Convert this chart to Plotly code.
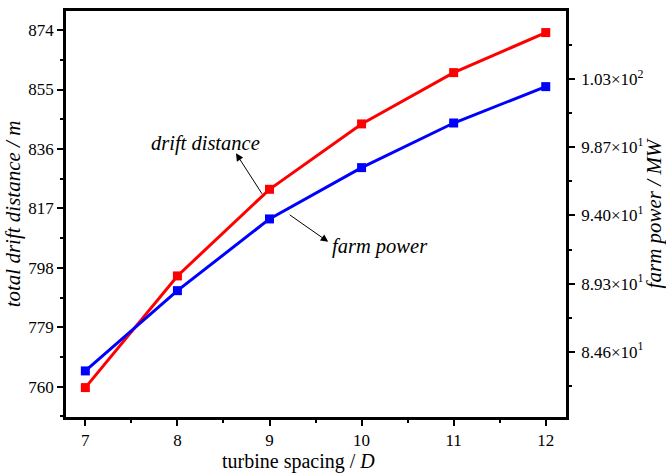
import plotly.graph_objects as go

spacing = [7, 8, 9, 10, 11, 12]
drift_distance = [759.7, 795.4, 823.1, 844.0, 860.4, 873.2]
farm_power = [83.27, 88.81, 93.76, 97.30, 100.38, 102.89]

left_ticks = [760, 779, 798, 817, 836, 855, 874]
right_tickvals = [84.6, 89.3, 94.0, 98.7, 103.4]
right_ticktext = ["8.46×10<sup>1</sup>", "8.93×10<sup>1</sup>", "9.40×10<sup>1</sup>",
                  "9.87×10<sup>1</sup>", "1.03×10<sup>2</sup>"]

FONT = "Times New Roman, Liberation Serif, serif"
RED = "#ff0000"
BLUE = "#0000ff"

fig = go.Figure()
fig.add_trace(go.Scatter(x=spacing, y=drift_distance, mode="lines+markers",
                         line=dict(color=RED, width=3),
                         marker=dict(symbol="square", size=9, color=RED),
                         showlegend=False))
fig.add_trace(go.Scatter(x=spacing, y=farm_power, mode="lines+markers",
                         line=dict(color=BLUE, width=3),
                         marker=dict(symbol="square", size=9, color=BLUE),
                         yaxis="y2", showlegend=False))

axis_common = dict(showline=True, linecolor="black", linewidth=2.5,
                   ticks="outside", ticklen=6, tickwidth=2, tickcolor="black",
                   showgrid=False, zeroline=False, automargin=False,
                   tickfont=dict(family=FONT, size=17, color="black"))

fig.update_layout(
    width=666, height=473,
    margin=dict(l=66, r=100, t=11, b=56),
    paper_bgcolor="white", plot_bgcolor="white",
    font=dict(family=FONT, color="black"),
    xaxis=dict(**axis_common, range=[6.79, 12.22], tickmode="linear", tick0=7, dtick=1,
               mirror=True,
               minor=dict(ticks="outside", ticklen=3, tickwidth=2, tickcolor="black",
                          tick0=7.5, dtick=1, showgrid=False)),
    yaxis=dict(**axis_common, range=[750.3, 880.1], tickmode="array", tickvals=left_ticks,
               mirror=True,
               minor=dict(ticks="outside", ticklen=3, tickwidth=2, tickcolor="black",
                          tick0=750.5, dtick=9.5, showgrid=False),
               title=dict(text="<i>total drift distance / m</i>", standoff=2,
                          font=dict(family=FONT, size=21, color="black"))),
    yaxis2=dict(**axis_common, overlaying="y", side="right", range=[80.09, 108.11],
                tickmode="array", tickvals=right_tickvals, ticktext=right_ticktext,
                ticklabelstandoff=3,
                minor=dict(ticks="outside", ticklen=3, tickwidth=2, tickcolor="black",
                           tick0=82.25, dtick=4.7, showgrid=False),
                title=dict(text="<i>farm power / MW</i>", standoff=6,
                           font=dict(family=FONT, size=21, color="black"))),
)

# x-axis title (placed slightly left of centre as in the reference)
fig.add_annotation(x=0.464, y=-0.109, xref="paper", yref="paper",
                   text="turbine spacing / <i>D</i>", showarrow=False,
                   xanchor="center", yanchor="middle", borderpad=0,
                   font=dict(family=FONT, size=20, color="black"))

ann_font = dict(family=FONT, size=20.5, color="black")
fig.add_annotation(x=8.30, y=837.6, xref="x", yref="y", text="<i>drift distance</i>",
                   showarrow=False, font=ann_font)
fig.add_annotation(x=8.636, y=834.6, xref="x", yref="y", text="", showarrow=True,
                   ax=27, ay=42, arrowhead=2, arrowsize=1.5, arrowwidth=1, arrowcolor="black")
fig.add_annotation(x=10.20, y=804.7, xref="x", yref="y", text="<i>farm power</i>",
                   showarrow=False, font=ann_font)
fig.add_annotation(x=9.638, y=806.3, xref="x", yref="y", text="", showarrow=True,
                   ax=-40, ay=-28, arrowhead=2, arrowsize=1.5, arrowwidth=1, arrowcolor="black")

fig.write_html("out.html")
